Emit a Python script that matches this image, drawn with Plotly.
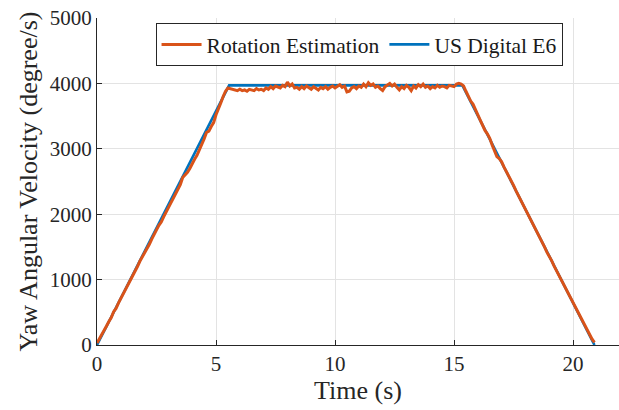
import plotly.graph_objects as go

# ---- data ----
t_ref = [0.0, 5.55, 15.35, 20.9]
v_ref = [0, 3970, 3970, 0]

t_est = [round(i * 0.1, 1) for i in range(210)]
v_est = [
    30, 90, 150, 230, 290, 360, 420, 510, 560, 640,
    710, 780, 850, 900, 990, 1060, 1110, 1200, 1280, 1340,
    1420, 1460, 1540, 1620, 1680, 1760, 1830, 1880, 1960, 2030,
    2080, 2150, 2230, 2290, 2360, 2450, 2560, 2600, 2640, 2700,
    2780, 2840, 2900, 2980, 3070, 3150, 3250, 3270, 3340, 3400,
    3520, 3600, 3700, 3800, 3880, 3930, 3920,
    3910, 3900, 3890, 3910, 3890, 3900, 3880, 3910, 3900, 3890,
    3920, 3900, 3910, 3890, 3930, 3910, 3950, 3920, 3960, 3940,
    3930, 3970, 3950, 4020, 3960, 3990, 3930, 3940, 3910, 3950,
    3920, 3960, 3930, 3910, 3950, 3930, 3900, 3940, 3920, 3950,
    3910, 3940, 3960, 3930, 3950, 3980, 3940, 3960, 3870, 3880,
    3930, 3950, 3920, 3960, 3940, 3990, 3950, 4010, 3970, 3990,
    3940, 3960, 3920, 3890, 3950, 3970, 4000, 3960, 3990, 3940,
    3900, 3950, 3920, 3970, 3940, 3890, 3960, 3930, 3980, 3950,
    3990, 3940, 3960, 3920, 3950, 3930, 3970, 3940, 3960, 3950,
    3930, 3970, 3960, 3950, 3990, 4000, 3990,
    3960, 3880, 3800, 3730, 3680, 3610, 3520, 3440, 3350, 3280,
    3230, 3160, 3060, 2980, 2880, 2850, 2800, 2720, 2650, 2580,
    2530, 2440, 2360, 2290, 2210, 2150, 2070, 2000, 1920, 1860,
    1800, 1720, 1640, 1570, 1500, 1420, 1360, 1290, 1210, 1140,
    1060, 990, 930, 850, 780, 700, 650, 570, 500, 420,
    350, 280, 210, 150, 90, 40,
]
t_est = t_est[:len(v_est)]

x_ticks = [0, 5, 10, 15, 20]
y_ticks = [0, 1000, 2000, 3000, 4000, 5000]

FONT = "Liberation Serif"

fig = go.Figure()
fig.add_trace(go.Scatter(
    x=t_ref, y=v_ref, mode="lines", name="US Digital E6",
    line=dict(color="#0072BD", width=2.6), legendrank=2,
))
fig.add_trace(go.Scatter(
    x=t_est, y=v_est, mode="lines", name="Rotation Estimation",
    line=dict(color="#D95319", width=3.0), legendrank=1,
))

axis_common = dict(
    showgrid=True, gridcolor="#e3e3e3", gridwidth=1,
    showline=True, linecolor="#262626", linewidth=1,
    ticks="inside", ticklen=5, tickcolor="#262626",
    zeroline=False, automargin=False,
    tickfont=dict(family=FONT, size=21, color="#262626"),
)

fig.update_layout(
    width=619, height=410,
    margin=dict(l=97, r=0, t=18, b=65),
    paper_bgcolor="white", plot_bgcolor="white",
    font=dict(family=FONT, color="#262626"),
    xaxis=dict(range=[0, 21.93], tickvals=x_ticks,
               title=dict(text="Time (s)", font=dict(family=FONT, size=26), standoff=2),
               **axis_common),
    yaxis=dict(range=[0, 5000], tickvals=y_ticks,
               title=dict(text="Yaw Angular Velocity (degree/s)", font=dict(family=FONT, size=26), standoff=4),
               **axis_common),
    legend=dict(
        orientation="h", x=0.502, xanchor="center", y=0.985, yanchor="top",
        bgcolor="white", bordercolor="#262626", borderwidth=1,
        font=dict(family=FONT, size=21.5, color="#1a1a1a"),
        itemwidth=40, tracegroupgap=0,
    ),
    showlegend=True,
)

fig.write_html(
    "out.html",
    config={"displayModeBar": False},
    post_script="document.body.style.margin='0';document.body.style.overflow='hidden';",
)
